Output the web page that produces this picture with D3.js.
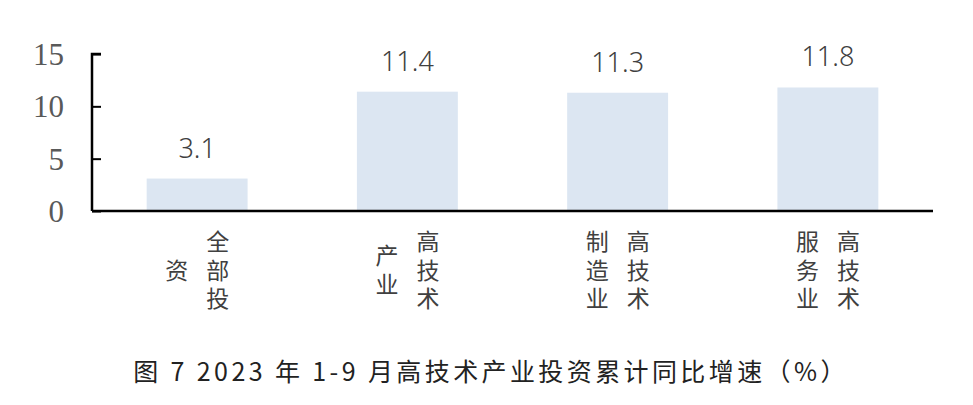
<!DOCTYPE html>
<html><head><meta charset="utf-8">
<script src="https://cdn.jsdelivr.net/npm/d3@7/dist/d3.min.js"></script>
<style>
html,body{margin:0;padding:0;background:#fff;}
svg{display:block;}
</style></head>
<body>
<svg id="chart" width="973" height="405"></svg>
<script>
const categories = ["全部投资", "高技术产业", "高技术制造业", "高技术服务业"];
const values = [3.1, 11.4, 11.3, 11.8];
const yTicks = [0, 5, 10, 15];
const title = "图 7 2023 年 1-9 月高技术产业投资累计同比增速（%）";

const svg = d3.select("#chart");
const x = d3.scaleBand().domain(categories).range([92, 933]).paddingInner(0.52).paddingOuter(0.26);
const y = d3.scaleLinear().domain([0, 15]).range([211, 54]);

// bars
svg.append("g").selectAll("rect").data(values).join("rect")
  .attr("x", (d, i) => x(categories[i]))
  .attr("y", d => y(d))
  .attr("width", x.bandwidth())
  .attr("height", d => y(0) - y(d))
  .attr("fill", "#dce6f2");

// value labels
svg.append("g").selectAll("text").data(values).join("text")
  .attr("x", (d, i) => x(categories[i]) + x.bandwidth() / 2)
  .attr("y", d => y(d) - 21)
  .attr("text-anchor", "middle")
  .attr("font-family", "'Noto Sans', 'Open Sans', sans-serif")
  .attr("font-weight", 300)
  .attr("font-size", 27)
  .attr("fill", "#404040")
  .text(d => d.toFixed(1));

// y axis
const yAxis = d3.axisRight(y).tickValues(yTicks).tickSize(9).tickFormat("");
const gy = svg.append("g").attr("transform", "translate(92,0)").call(yAxis);
gy.select(".domain").attr("stroke", "#000").attr("stroke-width", 2.5).attr("d", `M9,${y(15)}H0V${y(0)}`);
gy.selectAll(".tick line").attr("stroke", "#000").attr("stroke-width", 2);
svg.append("g").selectAll("text").data(yTicks).join("text")
  .attr("x", 64)
  .attr("y", d => y(d))
  .attr("dy", "0.35em")
  .attr("text-anchor", "end")
  .attr("font-family", "'Liberation Serif', 'Times New Roman', serif")
  .attr("font-size", 31)
  .attr("fill", "#595959")
  .text(d => d);

// x axis
const xAxis = d3.axisBottom(x).tickSize(0).tickFormat("");
const gx = svg.append("g").attr("transform", `translate(0,${y(0)})`).call(xAxis);
gx.select(".domain").attr("stroke", "#000").attr("stroke-width", 2.5).attr("d", `M92,0H933`);

// vertical category labels (columns of 3 chars, right to left), vertical writing
const colGap = 41, fs = 23, rowGap = 28.5, midY = 270;
categories.forEach(cat => {
  const chars = Array.from(cat);
  const cols = [];
  for (let i = 0; i < chars.length; i += 3) cols.push(chars.slice(i, i + 3).join(""));
  const cx = x(cat) + x.bandwidth() / 2;
  cols.forEach((col, c) => {
    const colX = cx + ((cols.length - 1) / 2 - c) * colGap;
    const n = Array.from(col).length;
    const total = n * fs + (n - 1) * (rowGap - fs);
    svg.append("text")
      .attr("x", colX)
      .attr("y", midY - total / 2)
      .attr("writing-mode", "vertical-rl")
      .attr("style", "writing-mode: vertical-rl; text-orientation: upright;")
      .attr("letter-spacing", rowGap - fs)
      .attr("font-family", "'Noto Sans CJK SC', sans-serif")
      .attr("font-size", fs)
      .attr("fill", "#404040")
      .text(col);
  });
});

// title
svg.append("text")
  .attr("x", 491)
  .attr("y", 381)
  .attr("text-anchor", "middle")
  .attr("font-family", "'Noto Sans CJK SC', sans-serif")
  .attr("font-size", 25)
  .attr("letter-spacing", 3.4)
  .attr("fill", "#222")
  .text(title);
</script>
</body></html>
